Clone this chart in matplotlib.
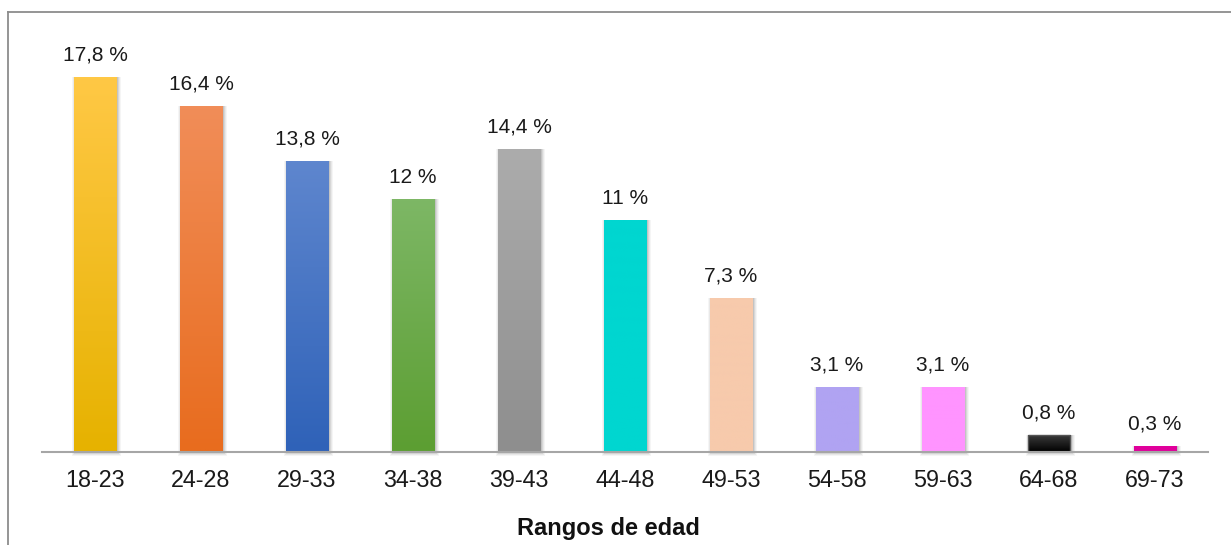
import matplotlib.pyplot as plt
import matplotlib.colors as mcolors
import numpy as np
from matplotlib.lines import Line2D
from matplotlib.patches import Rectangle

plt.rcParams['font.family'] = ['Liberation Sans', 'DejaVu Sans']

# data
rangos = ["18-23", "24-28", "29-33", "34-38", "39-43", "44-48",
          "49-53", "54-58", "59-63", "64-68", "69-73"]
porcentajes = [17.8, 16.4, 13.8, 12, 14.4, 11, 7.3, 3.1, 3.1, 0.8, 0.3]
etiquetas = ["17,8 %", "16,4 %", "13,8 %", "12 %", "14,4 %", "11 %",
             "7,3 %", "3,1 %", "3,1 %", "0,8 %", "0,3 %"]

# (top colour, bottom colour) per bar
col_top = ["#FFC845", "#F18D58", "#5E86CE", "#7DB765", "#ACACAC", "#00D6D0",
           "#F7CAAC", "#B0A3F2", "#FF94FF", "#3A3A3A", "#E0009B"]
col_bot = ["#E6B200", "#E86C1E", "#2F62B8", "#5C9E32", "#8E8E8E", "#00D6D0",
           "#F7CAAC", "#B0A3F2", "#FF94FF", "#000000", "#E0009B"]

fig = plt.figure(figsize=(12.31, 5.45), dpi=100)
ax = fig.add_axes([0.0341, 0.1706, 0.9472, 0.8074])

x = np.arange(len(rangos))
width = 0.405
ymax = 20.88

bars = ax.bar(x, porcentajes, width=width, color="none", edgecolor="none", zorder=3)

px = 1 / 106.0  # one pixel in x data units
py = 1 / 21.07  # one pixel in y data units
for i, b in enumerate(bars):
    x0, y0 = b.get_x(), b.get_y()
    w, h = b.get_width(), b.get_height()
    # soft shadow, shifted a little to the right and down
    for d, a in [(4, 0.04), (3, 0.05), (2, 0.07), (1, 0.09)]:
        ax.add_patch(Rectangle((x0 + 2 * px - d * px, y0 - d * py),
                               w + 2 * d * px - px, h + d * py,
                               facecolor="black", alpha=a, edgecolor="none",
                               zorder=2, clip_on=False))
    # gradient fill clipped to the bar
    c1 = np.array(mcolors.to_rgb(col_top[i]))
    c2 = np.array(mcolors.to_rgb(col_bot[i]))
    t = np.linspace(0, 1, 64)[:, None]
    grad = (c1 * (1 - t) + c2 * t)[:, None, :]
    im = ax.imshow(grad, extent=(x0, x0 + w, y0, y0 + h), origin="upper",
                   aspect="auto", zorder=3, interpolation="bilinear")
    im.set_clip_path(b)
    if i == 9:
        ax.add_patch(Rectangle((x0, y0), w, h, facecolor="none",
                               edgecolor="#555555", linewidth=1.0, zorder=4))

for i, v in enumerate(porcentajes):
    ax.annotate(etiquetas[i], (x[i], v), xytext=(0, 9), textcoords="offset points",
                ha="center", va="bottom", fontsize=15, color="#1a1a1a")

ax.set_xlim(-0.5, len(rangos) - 0.5)
ax.set_ylim(0, ymax)
ax.set_xticks(x)
ax.set_xticklabels(rangos, fontsize=16.8, color="#1a1a1a")
ax.tick_params(axis="x", length=0, pad=12)
ax.set_yticks([])
for s in ["top", "right", "left"]:
    ax.spines[s].set_visible(False)
ax.spines["bottom"].set_color("#A6A6A6")
ax.spines["bottom"].set_linewidth(1.5)
ax.spines["bottom"].set_zorder(5)
ax.patch.set_alpha(0)

fig.text(608 / 1231, 1 - 529 / 545, "Rangos de edad", ha="center", va="center",
         fontsize=17, fontweight="bold", color="#111111")

# outer frame (top and left edges visible)
fig.add_artist(Line2D([8 / 1231, 1], [1 - 12 / 545, 1 - 12 / 545],
                      color="#8C8C8C", linewidth=1.3))
fig.add_artist(Line2D([8 / 1231, 8 / 1231], [0, 1 - 12 / 545],
                      color="#8C8C8C", linewidth=1.3))

fig.savefig("out.png", dpi=100)
